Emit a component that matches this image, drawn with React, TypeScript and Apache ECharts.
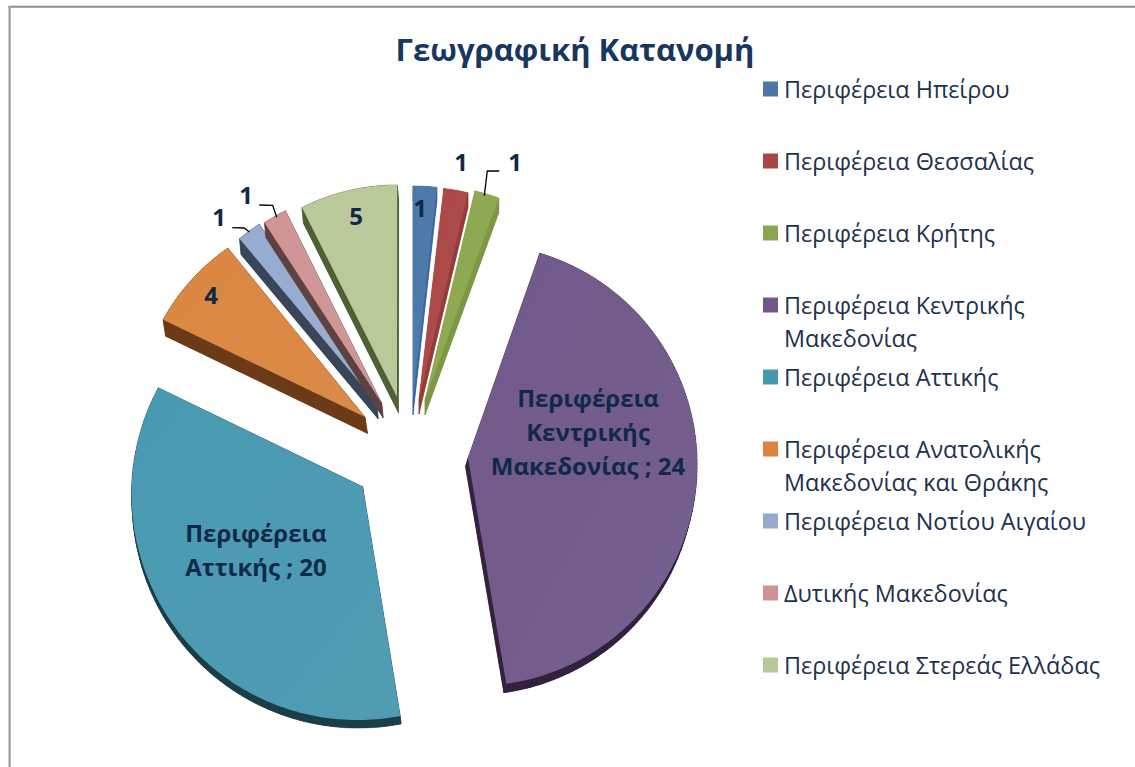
import React, { useEffect, useRef } from "react";
import * as echarts from "echarts";

const FONT = "'Open Sans', 'Noto Sans', sans-serif";
const titleText = "Γεωγραφική Κατανομή";
const categories = [
  "Περιφέρεια Ηπείρου",
  "Περιφέρεια Θεσσαλίας",
  "Περιφέρεια Κρήτης",
  "Περιφέρεια Κεντρικής Μακεδονίας",
  "Περιφέρεια Αττικής",
  "Περιφέρεια Ανατολικής Μακεδονίας και Θράκης",
  "Περιφέρεια Νοτίου Αιγαίου",
  "Δυτικής Μακεδονίας",
  "Περιφέρεια Στερεάς Ελλάδας",
];
const values = [1, 1, 1, 24, 20, 4, 1, 1, 5];
const legendLines: Record<string, string> = {
  "Περιφέρεια Κεντρικής Μακεδονίας": "Περιφέρεια Κεντρικής\nΜακεδονίας",
  "Περιφέρεια Ανατολικής Μακεδονίας και Θράκης": "Περιφέρεια Ανατολικής\nΜακεδονίας και Θράκης",
};
const labelTexts = ["1", "1", "1", "Περιφέρεια\nΚεντρικής\nΜακεδονίας ; 24", "Περιφέρεια\nΑττικής ; 20", "4", "1", "1", "5"];

// styles
const faceColors = ["#4A76A8", "#A84644", "#8BA64E", "#6F5889", "#4797AF", "#D8853F", "#94A9CC", "#CC9392", "#B7C796"];
const sideColors = ["#3F6899", "#963C3A", "#7C9845", "#33213F", "#1B3E48", "#6B3A17", "#394659", "#5E4141", "#4F5F38"];
const legendCenters = [89, 161, 233, 305, 377, 449, 521, 593, 665];

// exploded layout of each slice: face apex, radius model ra + k*cos(theta-phi), rotation and span factor, extrusion
const apexes = [[413, 400], [419, 399], [425, 400], [468, 458], [362.7, 486.7], [365, 417], [376.7, 403], [381.7, 403], [397, 397]];
const radii = [[214, 0, 0], [212, 0, 0], [215, 0, 0], [220.8, 10.7, 130], [225.5, 9.5, 215], [210, 18.6, 255], [214, 0, 0], [215, 0, 0], [212, 0, 0]];
const rotations = [0, 0.5, 1, 0.7, 3.1, 4, 3.6, 4.2, 4.4];
const spanScale = [1.03, 1.07, 1.07, 1.014, 1.008, 1.016, 1.06, 1.04, 0.86];
const extrusions = [[0, 15], [0, 15], [0, 15], [-2.5, 9], [0.7, 8], [2.5, 16.5], [1.5, 16], [1.5, 15], [1.5, 16]];
const labelCenters = [[420, 207.5], [461, 161.5], [515, 161.5], [588, 431.5], [256, 549], [211, 294.5], [219, 216.5], [246, 194.5], [356, 215.5]];
const leaders: Record<number, number[][]> = {
  2: [[484.3, 195.7], [487.3, 171], [499.3, 171]],
  6: [[249.3, 232], [244.3, 228], [232.3, 227.7]],
  7: [[276.7, 217.3], [272.7, 205.3], [259.3, 205]],
};

const total = values.reduce((a, b) => a + b, 0);
const rad = (d: number) => (d * Math.PI) / 180;

function outline(i: number) {
  const before = values.slice(0, i).reduce((a, b) => a + b, 0);
  const span = (values[i] / total) * 360 * spanScale[i];
  const start = (before / total) * 360 + rotations[i];
  const [ax, ay] = apexes[i];
  const [ra, k, phi] = radii[i];
  const pts: number[][] = [[ax, ay]];
  const steps = Math.max(4, Math.round(span));
  for (let s = 0; s <= steps; s++) {
    const th = start + (span * s) / steps;
    const r = ra + k * Math.cos(rad(th - phi));
    pts.push([ax + r * Math.sin(rad(th)), ay - r * Math.cos(rad(th))]);
  }
  return pts;
}

function renderSlice(i: number) {
  return () => {
    const pts = outline(i);
    const [ex, ey] = extrusions[i];
    const sides = pts.map(([x, y]) => [x + ex, y + ey]);
    const children: any[] = [];
    // sweep of the outline downward gives the extruded wall
    children.push({ type: "polygon", shape: { points: sides }, style: { fill: sideColors[i] } });
    for (let s = 0; s < pts.length; s++) {
      const n = (s + 1) % pts.length;
      children.push({
        type: "polygon",
        shape: { points: [pts[s], pts[n], sides[n], sides[s]] },
        style: { fill: sideColors[i], stroke: sideColors[i], lineWidth: 0.5 },
      });
    }
    children.push({
      type: "polygon",
      shape: { points: pts },
      style: {
        fill: new echarts.graphic.LinearGradient(0, 0, 1, 1, [
          { offset: 0, color: echarts.color.lift(faceColors[i], -0.02) },
          { offset: 1, color: echarts.color.lift(faceColors[i], 0.05) },
        ]),
      },
    });
    const lead = leaders[i];
    if (lead) {
      children.push({
        type: "polyline",
        shape: { points: lead },
        style: { fill: "none", stroke: "#000000", lineWidth: 1.3 },
      });
    }
    children.push({
      type: "text",
      z2: 100,
      style: {
        x: labelCenters[i][0],
        y: labelCenters[i][1],
        text: labelTexts[i],
        align: "center",
        verticalAlign: "middle",
        font: `bold 24px ${FONT}`,
        lineHeight: 34,
        fill: "#10294A",
      },
    });
    return { type: "group", children };
  };
}

export default function App() {
  const ref = useRef<HTMLDivElement>(null);
  useEffect(() => {
    const chart = echarts.init(ref.current!, undefined, { renderer: "svg" });
    chart.setOption({
      animation: false,
      backgroundColor: "#FFFFFF",
      title: {
        text: titleText,
        left: 575,
        top: 33,
        textAlign: "center",
        padding: 0,
        textStyle: { fontFamily: FONT, fontSize: 31, fontWeight: "bold", color: "#17375E" },
      },
      legend: categories.map((name, i) => {
        const wrapped = legendLines[name];
        return {
          data: [name],
          left: 763,
          top: legendCenters[i] - (wrapped ? 49.5 : 16.5),
          padding: 0,
          icon: "rect",
          itemWidth: 15,
          itemHeight: 15,
          selectedMode: false,
          formatter: (n: string) => (legendLines[n] ? `\n${legendLines[n]}` : n),
          textStyle: {
            fontFamily: FONT,
            fontSize: 23.4,
            lineHeight: 33,
            color: "#1B3250",
            padding: [0, 0, 0, 1],
          },
        };
      }),
      graphic: [
        { type: "line", shape: { x1: 8.5, y1: 6.8, x2: 1135, y2: 6.8 }, style: { stroke: "#8C8C8C", lineWidth: 2 } },
        { type: "line", shape: { x1: 9.6, y1: 6, x2: 9.6, y2: 767 }, style: { stroke: "#A3A3A3", lineWidth: 2.4 } },
      ],
      series: categories.map((name, i) => ({
        type: "custom",
        name,
        coordinateSystem: "none",
        itemStyle: { color: faceColors[i] },
        data: [values[i]],
        renderItem: renderSlice(i),
        silent: true,
      })),
    });
    return () => chart.dispose();
  }, []);
  return <div ref={ref} style={{ position: "fixed", left: 0, top: 0, width: 1135, height: 767 }} />;
}
